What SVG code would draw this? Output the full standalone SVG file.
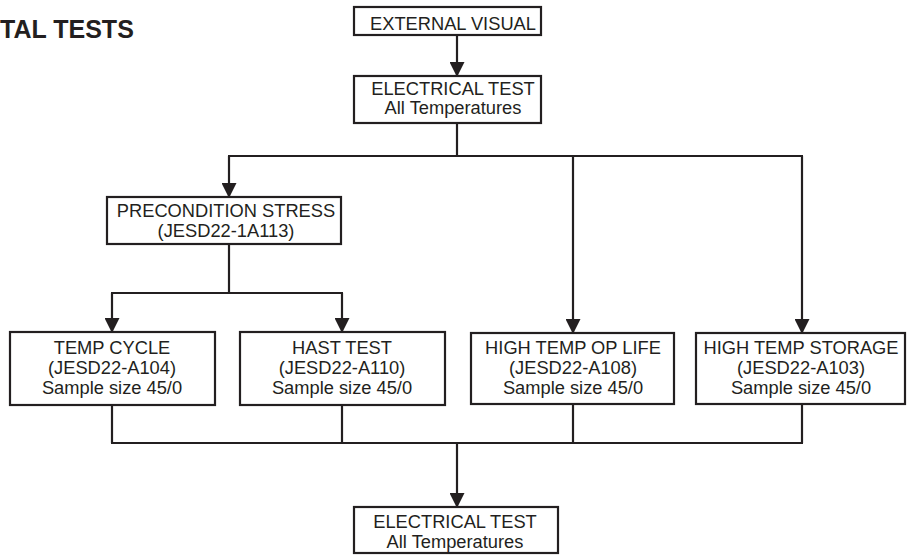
<svg xmlns="http://www.w3.org/2000/svg" width="907" height="558" viewBox="0 0 907 558">
<defs>
<style>
.box{fill:#fff;stroke:#231f20;stroke-width:2.2}
.t{font-family:"Liberation Sans",Arial,sans-serif;font-size:18.3px;fill:#231f20;text-anchor:middle}
.c{fill:none;stroke:#231f20;stroke-width:2.2}
.title{font-family:"Liberation Sans",Arial,sans-serif;font-size:25px;font-weight:bold;fill:#231f20}
</style>
<marker id="ah" markerUnits="userSpaceOnUse" markerWidth="15" markerHeight="15" refX="14" refY="7.5" orient="auto" viewBox="0 0 15 15">
<path d="M0,0 L15,7.5 L0,15 z" fill="#231f20"/>
</marker>
</defs>
<rect width="907" height="558" fill="#fff"/>
<text class="title" x="0" y="38">TAL TESTS</text>
<g id="connectors">
<line class="c" x1="457" y1="35" x2="457" y2="76" marker-end="url(#ah)"/>
<line class="c" x1="457" y1="123" x2="457" y2="156"/>
<line class="c" x1="228" y1="156" x2="803" y2="156"/>
<line class="c" x1="229" y1="156" x2="229" y2="197" marker-end="url(#ah)"/>
<line class="c" x1="573" y1="156" x2="573" y2="333" marker-end="url(#ah)"/>
<line class="c" x1="802" y1="156" x2="802" y2="333" marker-end="url(#ah)"/>
<line class="c" x1="229" y1="244" x2="229" y2="293"/>
<line class="c" x1="111" y1="293" x2="343" y2="293"/>
<line class="c" x1="112" y1="293" x2="112" y2="332" marker-end="url(#ah)"/>
<line class="c" x1="342" y1="293" x2="342" y2="332" marker-end="url(#ah)"/>
<line class="c" x1="112" y1="405" x2="112" y2="443"/>
<line class="c" x1="342" y1="405" x2="342" y2="443"/>
<line class="c" x1="573" y1="404" x2="573" y2="443"/>
<line class="c" x1="802" y1="404" x2="802" y2="443"/>
<line class="c" x1="111" y1="443" x2="803" y2="443"/>
<line class="c" x1="457" y1="443" x2="457" y2="507" marker-end="url(#ah)"/>
</g>
<g id="external-visual">
<rect class="box" x="354" y="7" width="187" height="28"/>
<text class="t" x="453" y="30">EXTERNAL VISUAL</text>
</g>
<g id="electrical-test-1">
<rect class="box" x="354" y="76" width="187" height="47"/>
<text class="t" x="453" y="95">ELECTRICAL TEST</text>
<text class="t" x="453" y="114">All Temperatures</text>
</g>
<g id="precondition">
<rect class="box" x="107" y="197" width="234" height="47"/>
<text class="t" x="226" y="217">PRECONDITION STRESS</text>
<text class="t" x="226" y="237">(JESD22-1A113)</text>
</g>
<g id="temp-cycle">
<rect class="box" x="10" y="332" width="205" height="73"/>
<text class="t" x="112" y="354">TEMP CYCLE</text>
<text class="t" x="112" y="374">(JESD22-A104)</text>
<text class="t" x="112" y="394">Sample size 45/0</text>
</g>
<g id="hast-test">
<rect class="box" x="240" y="332" width="205" height="73"/>
<text class="t" x="342" y="354">HAST TEST</text>
<text class="t" x="342" y="374">(JESD22-A110)</text>
<text class="t" x="342" y="394">Sample size 45/0</text>
</g>
<g id="htol">
<rect class="box" x="471" y="333" width="203" height="71"/>
<text class="t" x="573" y="354">HIGH TEMP OP LIFE</text>
<text class="t" x="573" y="374">(JESD22-A108)</text>
<text class="t" x="573" y="394">Sample size 45/0</text>
</g>
<g id="hts">
<rect class="box" x="696" y="333" width="209" height="71"/>
<text class="t" x="801" y="354">HIGH TEMP STORAGE</text>
<text class="t" x="801" y="374">(JESD22-A103)</text>
<text class="t" x="801" y="394">Sample size 45/0</text>
</g>
<g id="electrical-test-2">
<rect class="box" x="354" y="507" width="204" height="46"/>
<text class="t" x="455" y="528">ELECTRICAL TEST</text>
<text class="t" x="455" y="548">All Temperatures</text>
</g>
</svg>
